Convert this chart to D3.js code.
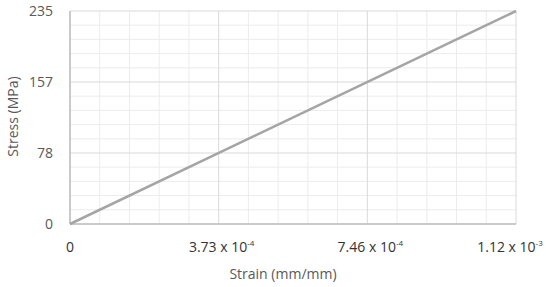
<!DOCTYPE html>
<html>
<head>
<meta charset="utf-8">
<script src="https://cdn.jsdelivr.net/npm/d3@7"></script>
<style>
  body { margin: 0; background: #fff; }
  text { font-family: "Open Sans", "Noto Sans", sans-serif; fill: #595959; }
</style>
</head>
<body>
<svg id="chart" width="550" height="287"></svg>
<script>
// data
let strain = [0, 0.00112]
let stress = [0, 235]
let xTicks = [0, 0.00112 / 3, 0.00224 / 3, 0.00112]
let xTickMant = ['0', '3.73', '7.46', '1.12']
let xTickExp = ['', '-4', '-4', '-3']
let yTicks = [0, 235 / 3, 470 / 3, 235]
let yTickLabels = ['0', '78', '157', '235']

function main() {
    let svg = d3.select('#chart'),
        margin = {top: 11, bottom: 63, left: 70, right: 34},
        width = svg.attr('width') - margin.left - margin.right,
        height = svg.attr('height') - margin.top - margin.bottom

    let xScale = d3.scaleLinear().domain([0, 0.00112]).range([margin.left, margin.left + width]),
        yScale = d3.scaleLinear().domain([0, 235]).range([margin.top + height, margin.top])

    // minor grid: 5 per major
    let xMinor = [], yMinor = []
    for (let i = 0; i < xTicks.length - 1; i++)
        for (let k = 1; k < 5; k++) xMinor.push(xTicks[i] + (xTicks[i + 1] - xTicks[i]) * k / 5)
    for (let i = 0; i < yTicks.length - 1; i++)
        for (let k = 1; k < 5; k++) yMinor.push(yTicks[i] + (yTicks[i + 1] - yTicks[i]) * k / 5)

    let grid = svg.append('g')
    grid.selectAll('.xm').data(xMinor).enter().append('line')
        .attr('x1', d => xScale(d)).attr('x2', d => xScale(d))
        .attr('y1', margin.top).attr('y2', margin.top + height)
        .attr('stroke', '#ececec').attr('stroke-width', 1)
    grid.selectAll('.ym').data(yMinor).enter().append('line')
        .attr('y1', d => yScale(d)).attr('y2', d => yScale(d))
        .attr('x1', margin.left).attr('x2', margin.left + width)
        .attr('stroke', '#ececec').attr('stroke-width', 1)
    grid.selectAll('.xM').data(xTicks).enter().append('line')
        .attr('x1', d => xScale(d)).attr('x2', d => xScale(d))
        .attr('y1', margin.top).attr('y2', margin.top + height)
        .attr('stroke', '#d9d9d9').attr('stroke-width', 1)
    grid.selectAll('.yM').data(yTicks).enter().append('line')
        .attr('y1', d => yScale(d)).attr('y2', d => yScale(d))
        .attr('x1', margin.left).attr('x2', margin.left + width)
        .attr('stroke', '#d9d9d9').attr('stroke-width', 1)

    // axis lines
    svg.append('line')
        .attr('x1', margin.left).attr('x2', margin.left + width)
        .attr('y1', yScale(0)).attr('y2', yScale(0))
        .attr('stroke', '#bfbfbf').attr('stroke-width', 1.5)
    svg.append('line')
        .attr('x1', xScale(0)).attr('x2', xScale(0))
        .attr('y1', margin.top).attr('y2', margin.top + height)
        .attr('stroke', '#bfbfbf').attr('stroke-width', 1.5)

    // the line
    let pts = strain.map((s, i) => [s, stress[i]])
    svg.append('path')
        .datum(pts)
        .attr('fill', 'none')
        .attr('stroke', '#a5a5a5')
        .attr('stroke-width', 2.5)
        .attr('d', d3.line().x(d => xScale(d[0])).y(d => yScale(d[1])))

    // y tick labels
    svg.selectAll('.ylab').data(yTicks).enter().append('text')
        .attr('x', margin.left - 17)
        .attr('y', d => yScale(d))
        .attr('dy', '0.35em')
        .attr('text-anchor', 'end')
        .attr('font-size', 14)
        .text((d, i) => yTickLabels[i])

    // x tick labels with superscript
    let xl = svg.selectAll('.xlab').data(xTicks).enter().append('text')
        .attr('x', (d, i) => xScale(d) + (i === 3 ? -6 : i === 0 ? 0 : 3))
        .attr('y', margin.top + height + 28)
        .attr('text-anchor', 'middle')
        .attr('font-size', 14)
        .style('fill', '#333')
    xl.append('tspan').text((d, i) => xTickMant[i] + (xTickExp[i] ? ' x 10' : ''))
    xl.append('tspan')
        .attr('dy', -6)
        .attr('font-size', 8)
        .text((d, i) => xTickExp[i])

    // axis titles
    svg.append('text')
        .attr('x', margin.left + width / 2 - 10)
        .attr('y', margin.top + height + 55)
        .attr('text-anchor', 'middle')
        .attr('font-size', 14)
        .text('Strain (mm/mm)')
    svg.append('text')
        .attr('transform', 'rotate(-90)')
        .attr('x', -(margin.top + height / 2) + 1)
        .attr('y', 18)
        .attr('text-anchor', 'middle')
        .attr('font-size', 14)
        .text('Stress (MPa)')
}

main()
</script>
</body>
</html>
